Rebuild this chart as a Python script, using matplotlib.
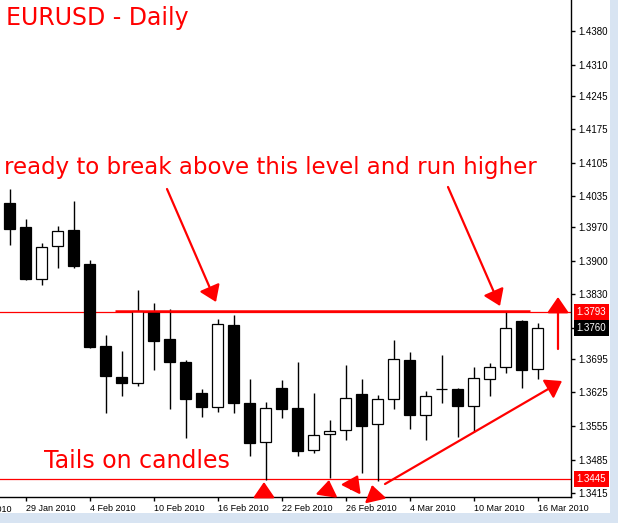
import matplotlib
matplotlib.use('Agg')
import matplotlib.pyplot as plt
from matplotlib.patches import Rectangle, FancyArrowPatch

# daily EURUSD candles, 28 Jan 2010 .. 16 Mar 2010
dates = ['28 Jan', '29 Jan', '1 Feb', '2 Feb', '3 Feb', '4 Feb', '5 Feb', '8 Feb',
         '9 Feb', '10 Feb', '11 Feb', '12 Feb', '15 Feb', '16 Feb', '17 Feb', '18 Feb',
         '19 Feb', '22 Feb', '23 Feb', '24 Feb', '25 Feb', '26 Feb', '1 Mar', '2 Mar',
         '3 Mar', '4 Mar', '5 Mar', '8 Mar', '9 Mar', '10 Mar', '11 Mar', '12 Mar',
         '15 Mar', '16 Mar']
opens = [1.4020, 1.3970, 1.3861, 1.3930, 1.3964, 1.3893, 1.3722, 1.3657,
         1.3644, 1.3794, 1.3737, 1.3688, 1.3624, 1.3595, 1.3766, 1.3602,
         1.3522, 1.3634, 1.3593, 1.3504, 1.3538, 1.3546, 1.3621, 1.3559,
         1.3611, 1.3692, 1.3579, 1.3632, 1.3632, 1.3597, 1.3653, 1.3678,
         1.3774, 1.3675]
highs = [1.4051, 1.3987, 1.3937, 1.3973, 1.4025, 1.3902, 1.3745, 1.3712,
         1.3839, 1.3811, 1.3799, 1.3692, 1.3632, 1.3779, 1.3787, 1.3653,
         1.3605, 1.3651, 1.3689, 1.3624, 1.3568, 1.3682, 1.3653, 1.3620,
         1.3735, 1.3710, 1.3628, 1.3703, 1.3634, 1.3678, 1.3687, 1.3794,
         1.3776, 1.3770]
lows = [1.3933, 1.3860, 1.3850, 1.3884, 1.3884, 1.3718, 1.3583, 1.3618,
        1.3639, 1.3672, 1.3591, 1.3529, 1.3574, 1.3585, 1.3583, 1.3493,
        1.3443, 1.3571, 1.3493, 1.3499, 1.3446, 1.3526, 1.3457, 1.3441,
        1.3590, 1.3548, 1.3526, 1.3602, 1.3533, 1.3543, 1.3618, 1.3666,
        1.3635, 1.3654]
closes = [1.3967, 1.3863, 1.3928, 1.3962, 1.3890, 1.3719, 1.3660, 1.3645,
          1.3795, 1.3733, 1.3689, 1.3612, 1.3595, 1.3768, 1.3604, 1.3520,
          1.3592, 1.3591, 1.3503, 1.3536, 1.3544, 1.3613, 1.3556, 1.3611,
          1.3694, 1.3577, 1.3617, 1.3632, 1.3597, 1.3655, 1.3678, 1.3759,
          1.3673, 1.3760]

xtick_pos = [1, 5, 9, 13, 17, 21, 25, 29, 33]
xtick_labels = ['29 Jan 2010', '4 Feb 2010', '10 Feb 2010', '16 Feb 2010', '22 Feb 2010',
                '26 Feb 2010', '4 Mar 2010', '10 Mar 2010', '16 Mar 2010']
ytick_vals = [1.4380, 1.4310, 1.4245, 1.4175, 1.4105, 1.4035, 1.3970, 1.3900,
              1.3830, 1.3760, 1.3695, 1.3625, 1.3555, 1.3485, 1.3415]

resistance = 1.3793
support = 1.3445
last_price = 1.3760

W, H = 618, 523
RED = '#ff0000'


def px(x, y):
    # pixel position -> figure fraction
    return (x / W, 1 - y / H)


fig = plt.figure(figsize=(W / 100, H / 100), dpi=100, facecolor='#d8e4f2')
fig.patches.append(Rectangle(px(0, 513), 610 / W, 513 / H, transform=fig.transFigure,
                             facecolor='white', edgecolor='none', zorder=-10))
ax = fig.add_axes([0, 1 - 497 / H, 571 / W, 497 / H])
ax.set_zorder(2)
ax.set_facecolor('white')

xs = list(range(len(dates)))
bottoms = [min(o, c) for o, c in zip(opens, closes)]
heights = [abs(c - o) for o, c in zip(opens, closes)]
fills = ['white' if c > o else 'black' for o, c in zip(opens, closes)]

ax.vlines(xs, lows, highs, color='black', lw=1, zorder=2)
ax.bar(xs, heights, bottom=bottoms, width=0.65, color=fills, edgecolor='black',
       linewidth=0.9, zorder=3)

ax.axhline(resistance, color=RED, lw=0.9, zorder=1)
ax.axhline(support, color=RED, lw=0.9, zorder=1)
ax.hlines(1.3796, 6.6, 32.5, color=RED, lw=1.8, zorder=4)

ax.set_xlim(-0.594, 35.09)
ax.set_ylim(1.34067, 1.44448)

for s in ['top', 'left']:
    ax.spines[s].set_visible(False)
ax.spines['right'].set_linewidth(1)
ax.spines['bottom'].set_linewidth(1)

ax.yaxis.tick_right()
ax.set_yticks(ytick_vals)
ax.set_yticklabels([('' if v == last_price else '%.4f' % v) for v in ytick_vals],
                   fontsize=7, family='Liberation Sans')
ax.tick_params(axis='y', length=3, width=1, pad=2)
ax.set_xticks(xtick_pos)
ax.set_xticklabels(xtick_labels, fontsize=6.5, family='Liberation Sans', ha='left')
ax.tick_params(axis='x', length=3, width=1, pad=2)
ax.annotate('25 Jan 2010', xy=(-3, 0), xycoords=ax.get_xaxis_transform(),
            xytext=(0, -5.5), textcoords='offset points', ha='left', va='top',
            fontsize=6.5, family='Liberation Sans', annotation_clip=False)

# price tags on the right scale
for val, bg in [(resistance, RED), (last_price, 'black'), (support, RED)]:
    ax.annotate('%.4f' % val, xy=(1, val), xycoords=ax.get_yaxis_transform(),
                xytext=(4, 0), textcoords='offset points', ha='left', va='center',
                fontsize=7, family='Liberation Sans', color='white',
                bbox=dict(boxstyle='square,pad=0.3', facecolor=bg, edgecolor='none'),
                annotation_clip=False)

# annotations
fig.text(*px(6, 25), 'EURUSD - Daily', color=RED, fontsize=17, va='baseline', zorder=5)
fig.text(*px(4, 174), 'ready to break above this level and run higher', color=RED,
         fontsize=16.5, va='baseline', zorder=5)
fig.text(*px(44, 468), 'Tails on candles', color=RED, fontsize=17, va='baseline', zorder=5)

arrows = [((167, 189), (216, 302)), ((448, 187), (500, 306)),
          ((558, 349), (558, 297)), ((385, 484), (562, 381)),
          ((264, 495), (264, 482)), ((327, 493), (329, 480)),
          ((351, 489), (358, 475)), ((375, 498), (372, 485))]
for start, tip in arrows:
    fig.add_artist(FancyArrowPatch(
        px(*start), px(*tip), transform=fig.transFigure,
        arrowstyle='-|>,head_length=0.8,head_width=0.55', mutation_scale=12,
        color=RED, lw=1.6, shrinkA=0, shrinkB=0, zorder=6))

fig.savefig('out.png', dpi=100, facecolor=fig.get_facecolor())
